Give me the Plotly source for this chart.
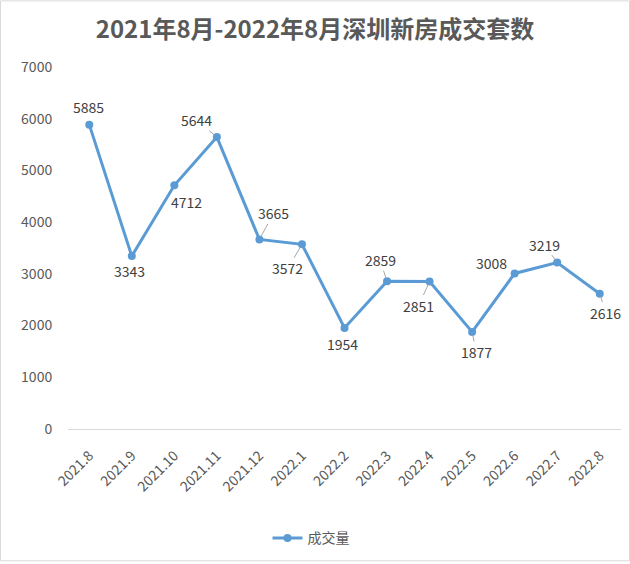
import plotly.graph_objects as go

months = ["2021.8", "2021.9", "2021.10", "2021.11", "2021.12", "2022.1", "2022.2",
          "2022.3", "2022.4", "2022.5", "2022.6", "2022.7", "2022.8"]
volumes = [5885, 3343, 4712, 5644, 3665, 3572, 1954, 2859, 2851, 1877, 3008, 3219, 2616]
y_ticks = [0, 1000, 2000, 3000, 4000, 5000, 6000, 7000]

# label placement (pixel offsets from point to label centre) and leader-line flags
label_dx = [-1, -2, 12, -20, 14, -14, -2, -7, -11, 4, -23, -13, 6]
label_dy = [-18, 15, 17, -17, -26, 24, 16, -21, 24, 20, -10, -18, 19]
leader = [False, False, False, True, True, True, False, True, True, True, False, True, True]

FONT = "Noto Sans CJK SC, Noto Sans, sans-serif"
LINE_COLOR = "#5b9bd5"

fig = go.Figure()
fig.add_trace(go.Scatter(
    x=months, y=volumes, mode="lines+markers", name="成交量",
    line=dict(color=LINE_COLOR, width=3),
    marker=dict(color=LINE_COLOR, size=8),
))

for i, (m, v, dx, dy, ld) in enumerate(zip(months, volumes, label_dx, label_dy, leader)):
    fig.add_annotation(
        x=i, y=v, xref="x", yref="y", text=str(v),
        showarrow=True, ax=dx, ay=dy,
        arrowhead=0, arrowwidth=1, standoff=3,
        arrowcolor="#a6a6a6" if ld else "rgba(255,255,255,0)",
        borderpad=0,
        font=dict(family=FONT, size=14, color="#404040"),
    )

W, H = 630, 564
ml, mr, mt, mb = 68, 9, 67, 133
pw, ph = W - ml - mr, H - mt - mb

border = dict(type="rect", xref="paper", yref="paper",
              x0=(0.5 - ml) / pw, x1=(W - 0.5 - ml) / pw,
              y0=-(mb - 0.5) / ph, y1=(H - mb - 0.5) / ph,
              line=dict(color="#d9d9d9", width=1), layer="below")

fig.update_layout(
    width=W, height=H,
    margin=dict(l=ml, r=mr, t=mt, b=mb),
    paper_bgcolor="white", plot_bgcolor="white",
    shapes=[border],
    title=dict(text="<b>2021年8月-2022年8月深圳新房成交套数</b>",
               x=0.5, xanchor="center", y=1 - 30 / H, yanchor="middle",
               font=dict(family=FONT, size=24, color="#595959")),
    font=dict(family=FONT, size=13, color="#595959"),
    showlegend=True,
    legend=dict(orientation="h", x=(311 - ml) / pw, xanchor="center",
                y=-(541 - (H - mb)) / ph, yanchor="middle",
                font=dict(family=FONT, size=14, color="#595959")),
    xaxis=dict(type="category", range=[-0.5, 12.5], showgrid=False,
               showline=True, linecolor="#d9d9d9", linewidth=1,
               tickangle=-45, ticks="outside", ticklen=12,
               tickcolor="rgba(0,0,0,0)", automargin=False,
               tickfont=dict(family=FONT, size=14, color="#595959")),
    yaxis=dict(range=[0, 7000], tickvals=y_ticks, showgrid=False,
               zeroline=False, showline=False, automargin=False,
               ticks="outside", ticklen=12, tickcolor="rgba(0,0,0,0)",
               tickfont=dict(family=FONT, size=14, color="#595959")),
)

fig.write_html("out.html", config={"displayModeBar": False},
               post_script="document.body.style.margin='0';")
